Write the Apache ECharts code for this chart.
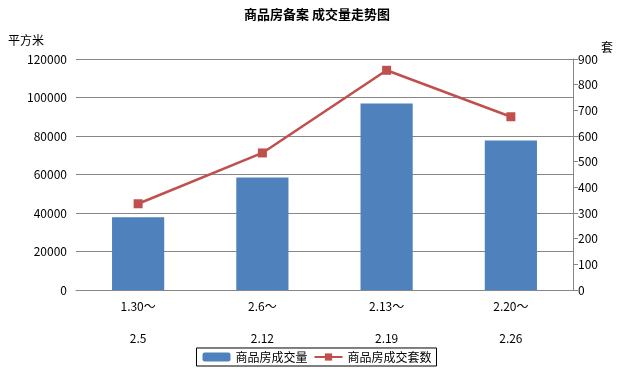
<!DOCTYPE html>
<html>
<head>
<meta charset="utf-8">
<script src="https://cdn.jsdelivr.net/npm/echarts@6/dist/echarts.min.js"></script>
<style>html,body{margin:0;padding:0;background:#fff;}#c{width:634px;height:369px;}</style>
</head>
<body>
<div id="c"></div>
<script>
const categories = ['1.30～\n\n2.5', '2.6～\n\n2.12', '2.13～\n\n2.19', '2.20～\n\n2.26'];
const areaValues = [37800, 58500, 96900, 77600];
const unitValues = [336, 534, 856, 675];
const leftTicks = { min: 0, max: 120000, interval: 20000 };
const rightTicks = { min: 0, max: 900, interval: 100 };

const FONT = '"Noto Sans CJK SC", "DejaVu Sans", sans-serif';
const GRAY = '#868686';
const chart = echarts.init(document.getElementById('c'), null, { renderer: 'canvas' });
chart.setOption({
  animation: false,
  textStyle: { fontFamily: FONT },
  title: [
    { text: '商品房备案 成交量走势图', left: 'center', top: 3,
      textStyle: { fontSize: 13, fontWeight: 'bold', color: '#000', fontFamily: FONT } },
    { text: '平方米', left: 3, top: 29,
      textStyle: { fontSize: 12, fontWeight: 'normal', color: '#000', fontFamily: FONT } },
    { text: '套', left: 596, top: 36,
      textStyle: { fontSize: 12, fontWeight: 'normal', color: '#000', fontFamily: FONT } }
  ],
  legend: {
    bottom: 3, left: 'center',
    borderColor: '#000', borderWidth: 1, padding: [3, 5, 3, 6],
    itemWidth: 28, itemHeight: 9, itemGap: 6,
    textStyle: { fontSize: 12, color: '#000', fontFamily: FONT },
    data: ['商品房成交量', '商品房成交套数']
  },
  grid: { left: 76, right: 61, top: 59, bottom: 79, containLabel: false },
  xAxis: {
    type: 'category', data: categories,
    axisLine: { show: true, lineStyle: { color: GRAY, width: 1 } },
    axisTick: { show: false },
    axisLabel: { color: '#000', fontSize: 12, lineHeight: 16, margin: 8, fontFamily: FONT }
  },
  yAxis: [
    { type: 'value', min: leftTicks.min, max: leftTicks.max, interval: leftTicks.interval,
      axisLine: { show: false }, axisTick: { show: false },
      splitLine: { show: true, lineStyle: { color: GRAY, width: 1 } },
      axisLabel: { color: '#000', fontSize: 12, margin: 9, fontFamily: FONT,
        formatter: function (v) { return String(v); } } },
    { type: 'value', min: rightTicks.min, max: rightTicks.max, interval: rightTicks.interval,
      position: 'right',
      axisLine: { show: true, lineStyle: { color: GRAY, width: 1 } },
      axisTick: { show: true, inside: false, length: 5, lineStyle: { color: GRAY } },
      splitLine: { show: false },
      axisLabel: { color: '#000', fontSize: 12, margin: 5, fontFamily: FONT,
        formatter: function (v) { return String(v); } } }
  ],
  series: [
    { name: '商品房成交量', type: 'bar', yAxisIndex: 0, data: areaValues,
      barWidth: '42%', itemStyle: { color: '#4F81BD' } },
    { name: '商品房成交套数', type: 'line', yAxisIndex: 1, data: unitValues,
      symbol: 'rect', symbolSize: 9,
      lineStyle: { color: '#C0504D', width: 2.5 },
      itemStyle: { color: '#C0504D' } }
  ]
});
</script>
</body>
</html>
